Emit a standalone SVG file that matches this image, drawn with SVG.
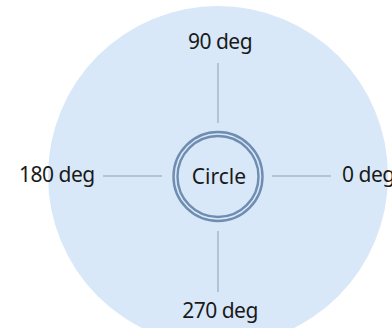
<svg xmlns="http://www.w3.org/2000/svg" width="392" height="328" viewBox="0 0 392 328">
<style>
.t{font-family:"Noto Sans","Open Sans",sans-serif;font-size:21px;fill:#1a1a1a;letter-spacing:-0.5px}
.c{stroke:#a3b8cf;stroke-width:1.5;fill:none}
.ring{fill:none;stroke:#6e8db0;stroke-width:2.4}
</style>
<rect width="392" height="328" fill="#ffffff"/>
<circle cx="218" cy="176" r="170" fill="#d9e8f8"/>
<g id="connectors">
<line class="c" x1="218" y1="63" x2="218" y2="123"/>
<line class="c" x1="218" y1="231" x2="218" y2="292"/>
<line class="c" x1="103" y1="176" x2="162" y2="176"/>
<line class="c" x1="272" y1="176" x2="331" y2="176"/>
</g>
<g id="circle">
<circle class="ring" cx="218" cy="176.5" r="44.5"/>
<circle class="ring" cx="218" cy="176.5" r="40.5"/>
<text class="t" x="219" y="183.5" text-anchor="middle" style="letter-spacing:0">Circle</text>
</g>
<g id="deg90"><text class="t" x="220" y="48.5" text-anchor="middle">90 deg</text></g>
<g id="deg270"><text class="t" x="220" y="317.5" text-anchor="middle">270 deg</text></g>
<g id="deg180"><text class="t" x="19" y="181.5">180 deg</text></g>
<g id="deg0"><text class="t" x="342" y="181.5">0 deg</text></g>
</svg>
